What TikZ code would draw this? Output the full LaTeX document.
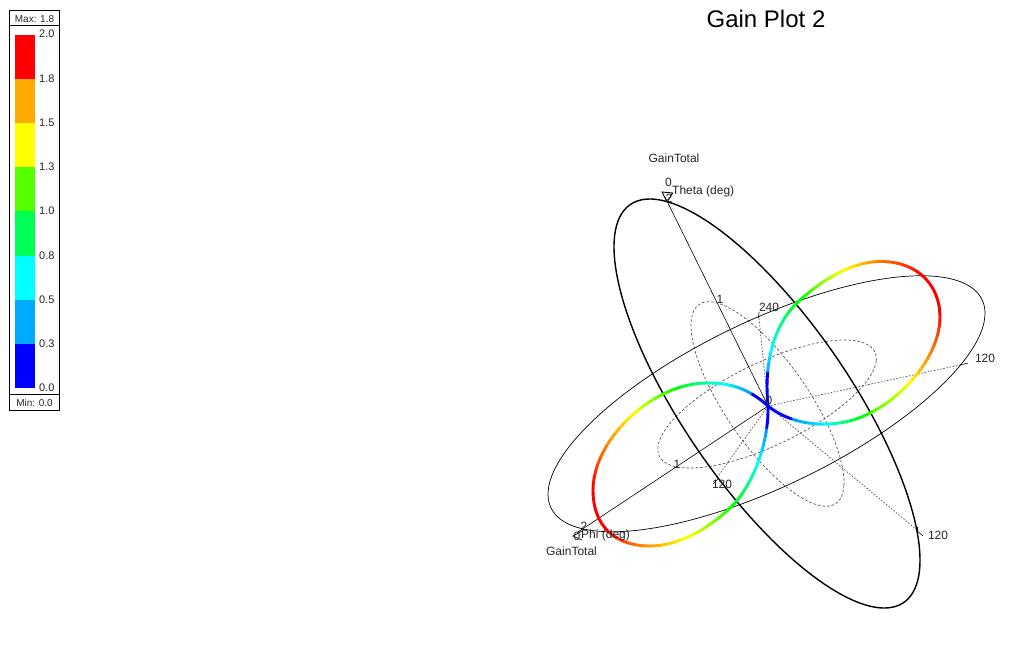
\documentclass[tikz,border=0pt]{standalone}
\usepackage{fontspec}
\setmainfont{Liberation Sans}
% tilted loop: centre x, centre y, half width, half height, phase, style
\newcommand{\gridloop}[6]{\draw[#6] plot[domain=0:360,samples=145,smooth cycle] ({#1+#3*cos(\x)},{#2+#4*sin(\x+#5)});}
% one cubic piece whose hue runs start, middle, end
\newcommand{\petalpiece}[8][24]{%
  \petalpieceB{#1}#2#3#4#5{#6}{#7}{#8}}
\def\petalpieceB#1(#2,#3)(#4,#5)(#6,#7)(#8,#9){\def\pa{#1}\def\xa{#2}\def\ya{#3}\def\xb{#4}\def\yb{#5}\def\xc{#6}\def\yc{#7}\def\xd{#8}\def\yd{#9}\petalpieceC}
\newcommand{\petalpieceC}[3]{%
  \xdef\prevx{\xa}\xdef\prevy{\ya}%
  \foreach \k in {1,...,\pa}{%
    \pgfmathsetmacro{\tv}{\k/\pa}%
    \pgfmathsetmacro{\uv}{1-\tv}%
    \pgfmathsetmacro{\cx}{\uv*\uv*\uv*\xa+3*\uv*\uv*\tv*\xb+3*\uv*\tv*\tv*\xc+\tv*\tv*\tv*\xd}%
    \pgfmathsetmacro{\cy}{\uv*\uv*\uv*\ya+3*\uv*\uv*\tv*\yb+3*\uv*\tv*\tv*\yc+\tv*\tv*\tv*\yd}%
    \pgfmathsetmacro{\hu}{\tv<.5?#1+(#2-#1)*2*\tv:#2+(#3-#2)*(2*\tv-1)}%
    \pgfmathsetmacro{\hv}{\hu>205?240:\hu}%
    \definecolor{petalcol}{Hsb}{\hv,1,1}%
    \draw[petalcol,line width=2.9pt,line cap=round] (\prevx,\prevy) -- (\cx,\cy);%
    \xdef\prevx{\cx}\xdef\prevy{\cy}%
  }%
}
\tikzset{
  legendline/.style={draw=black,line width=.9pt},
  lab/.style={font=\fontsize{12}{12}\selectfont,text=black!85,inner sep=0,anchor=center},
  leglab/.style={font=\fontsize{11}{11}\selectfont,text=black!85,inner sep=0,anchor=west},
  legtitle/.style={font=\fontsize{10}{10}\selectfont,text=black!85,inner sep=0,anchor=center},
  spoke/.style={line width=.6pt,black},
  dotspoke/.style={line width=.6pt,black!75,dash pattern=on 1.6pt off 1.6pt},
  dashloop/.style={line width=.65pt,black!70,dash pattern=on 2.6pt off 2pt}
}
\definecolor{bandA}{RGB}{255,0,0}
\definecolor{bandB}{RGB}{255,170,0}
\definecolor{bandC}{RGB}{255,255,0}
\definecolor{bandD}{RGB}{85,255,0}
\definecolor{bandE}{RGB}{0,255,85}
\definecolor{bandF}{RGB}{0,255,255}
\definecolor{bandG}{RGB}{0,170,255}
\definecolor{bandH}{RGB}{0,0,255}
\begin{document}
\begin{tikzpicture}[x=1pt,y=-1pt]
\fill[white] (0,0) rectangle (1035,665);
\useasboundingbox (0,0) rectangle (1035,665);
% legend
\draw[legendline,fill=white] (9.5,10.5) rectangle (59.5,410);
\draw[legendline] (9.5,25.5) -- (59.5,25.5);
\draw[legendline] (9.5,394) -- (59.5,394);
\fill[bandA] (15,35) rectangle (35,79.1);
\fill[bandB] (15,79.1) rectangle (35,123.2);
\fill[bandC] (15,123.2) rectangle (35,167.3);
\fill[bandD] (15,167.3) rectangle (35,211.4);
\fill[bandE] (15,211.4) rectangle (35,255.5);
\fill[bandF] (15,255.5) rectangle (35,299.6);
\fill[bandG] (15,299.6) rectangle (35,343.7);
\fill[bandH] (15,343.7) rectangle (35,388);
\node[legtitle] (lmax) at (34.5,19) {Max: 1.8};
\node[legtitle] (lmin) at (34.5,403) {Min: 0.0};
\node[leglab] (l20) at (39,34) {2.0};
\node[leglab] (l18) at (39,78.5) {1.8};
\node[leglab] (l15) at (39,123) {1.5};
\node[leglab] (l13) at (39,167) {1.3};
\node[leglab] (l10) at (39,211) {1.0};
\node[leglab] (l08) at (39,255.5) {0.8};
\node[leglab] (l05) at (39,300) {0.5};
\node[leglab] (l03) at (39,344) {0.3};
\node[leglab] (l00) at (39,388) {0.0};
% title
\node[font=\fontsize{24}{24}\selectfont,inner sep=0,anchor=center] (title) at (766,19) {Gain Plot 2};
% grid
\coordinate (c) at (768,406);
\coordinate (th0) at (665,197);
\coordinate (ph0) at (578,532);
\coordinate (ph120) at (960,365);
\coordinate (ph120t) at (968,363);
\coordinate (th120) at (917,530);
\coordinate (ph240) at (759,318);
\coordinate (th240) at (716,479);
\draw[spoke] (c) -- (th0);
\draw[spoke] (c) -- (ph0);
\draw[dotspoke] (c) -- (ph120);
\draw[spoke] (ph120) -- (ph120t);
\draw[dotspoke] (c) -- (th120);
\draw[spoke] (916,530) -- (923,536);
\draw[spoke] (917,527) -- (917,534);
\draw[dotspoke] (c) -- (ph240);
\draw[spoke] (758.5,318) -- (759,312);
\draw[dotspoke] (c) -- (th240);
\draw[spoke] (718,479) -- (713,484);
\gridloop{767.5}{404}{76.5}{102.25}{50}{dashloop}
\gridloop{767}{404}{109.25}{64}{-45}{dashloop}
\gridloop{766.5}{403.75}{218.5}{128}{-45}{line width=.7pt,black}
\gridloop{767}{403.5}{153}{204.5}{50}{line width=1.4pt,black}
% arrowheads
\draw[line width=.9pt,black] (662,192) -- (672.7,193) -- (667,202) -- cycle;
\draw[line width=.7pt,black] (582,531) -- (573,536) -- (582,540);
% right petal
\petalpiece{(768,406)}{(764,366)}{(772,325)}{(800,300)}{240}{180}{125}
\petalpiece{(800,300)}{(825,278)}{(852,262)}{(880,261.5)}{125}{68}{30}
\petalpiece{(880,261.5)}{(915,261)}{(940,283)}{(940,317)}{30}{0}{0}
\petalpiece{(940,317)}{(940,355)}{(905,395)}{(872,412)}{0}{45}{100}
\petalpiece{(872,412)}{(840,430)}{(795,428)}{(768,406)}{100}{185}{222}
% left petal
\petalpiece{(768,406)}{(748,388)}{(730,383)}{(707,383)}{222}{195}{165}
\petalpiece{(707,383)}{(652,383)}{(593,440)}{(593,490)}{165}{58}{0}
\petalpiece{(593,490)}{(593,527)}{(616,546)}{(650,546)}{0}{0}{35}
\petalpiece{(650,546)}{(680,546)}{(712,527)}{(735,503)}{35}{65}{120}
\petalpiece{(735,503)}{(755,480)}{(769,440)}{(768,406)}{120}{180}{222}
% labels
\node[lab] (gt1) at (674,158) {GainTotal};
\node[lab] (z1) at (668.5,182) {0};
\node[lab,anchor=west] (tt) at (672,191) {Theta (deg)};
\node[lab] (two1) at (669,198) {2};
\node[lab] (one1) at (720,299) {1};
\node[lab] (a240) at (769,307) {240};
\node[lab] (z2) at (769,400) {0};
\node[lab] (a120a) at (985,358) {120};
\node[lab] (a120b) at (938,535) {120};
\node[lab] (a120c) at (722,484) {120};
\node[lab] (one2) at (677,464) {1};
\node[lab] (two2) at (584,526) {2};
\node[lab] (z3) at (577,536) {0};
\node[lab,anchor=west] (pp) at (581,535) {Phi (deg)};
\node[lab] (gt2) at (571.5,551) {GainTotal};
\end{tikzpicture}
\end{document}
